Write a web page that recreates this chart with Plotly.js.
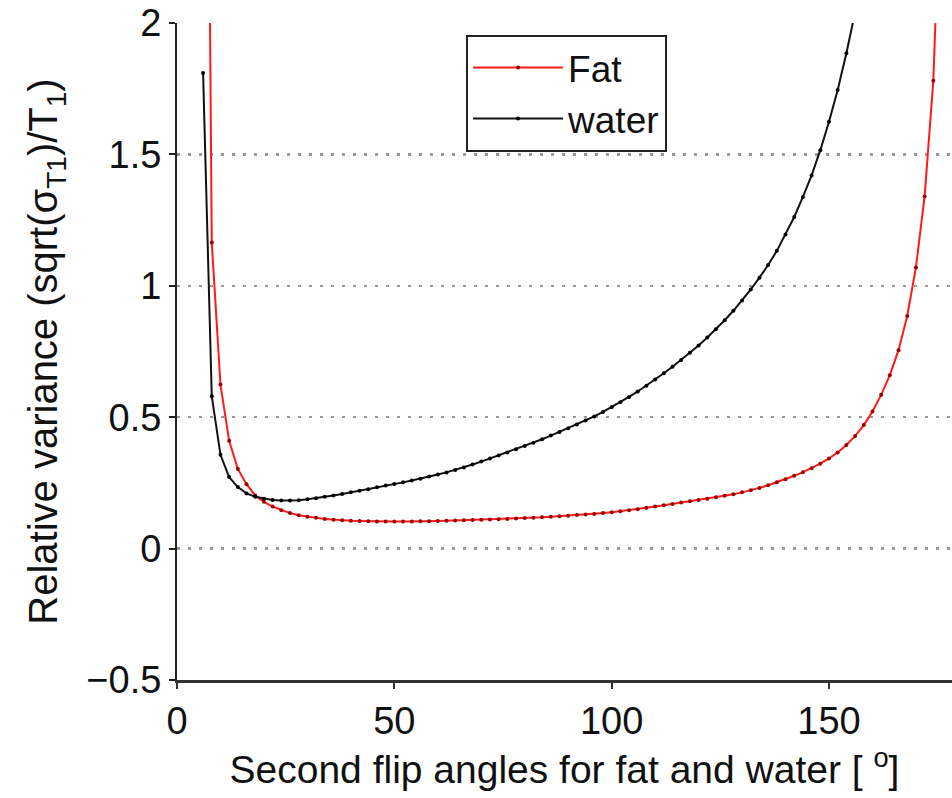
<!DOCTYPE html>
<html>
<head>
<meta charset="utf-8">
<script src="https://cdn.plot.ly/plotly-3.0.1.min.js"></script>
<style>html,body{margin:0;padding:0;background:#fff;overflow:hidden}</style>
</head>
<body>
<div id="chart" style="width:952px;height:798px"></div>
<script>
// Second flip angle (degrees)
const fatAngles = [6,8,10,12,14,16,18,20,22,24,26,28,30,32,34,36,38,40,42,44,46,48,50,52,54,56,58,60,62,64,66,68,70,72,74,76,78,80,82,84,86,88,90,92,94,96,98,100,102,104,106,108,110,112,114,116,118,120,122,124,126,128,130,132,134,136,138,140,142,144,146,148,150,152,154,156,158,160,162,164,166,168,170,172,174,176];
const fatValues = [5.3,1.165,0.624,0.41,0.303,0.245,0.202,0.178,0.16,0.146,0.135,0.127,0.121,0.117,0.113,0.11,0.108,0.106,0.105,0.104,0.103,0.103,0.103,0.103,0.103,0.104,0.104,0.105,0.106,0.107,0.108,0.109,0.11,0.111,0.112,0.113,0.115,0.116,0.117,0.119,0.121,0.123,0.125,0.128,0.13,0.132,0.135,0.138,0.142,0.146,0.15,0.155,0.16,0.165,0.17,0.175,0.18,0.185,0.19,0.195,0.201,0.207,0.214,0.222,0.231,0.241,0.252,0.264,0.277,0.291,0.306,0.323,0.343,0.366,0.394,0.428,0.47,0.522,0.585,0.66,0.755,0.885,1.07,1.34,1.78,2.7];

const waterAngles = [6,8,10,12,14,16,18,20,22,24,26,28,30,32,34,36,38,40,42,44,46,48,50,52,54,56,58,60,62,64,66,68,70,72,74,76,78,80,82,84,86,88,90,92,94,96,98,100,102,104,106,108,110,112,114,116,118,120,122,124,126,128,130,132,134,136,138,140,142,144,146,148,150,152,154,156,158];
const waterValues = [1.81,0.58,0.357,0.272,0.234,0.21,0.197,0.19,0.185,0.183,0.183,0.184,0.188,0.192,0.197,0.202,0.208,0.214,0.22,0.226,0.233,0.24,0.246,0.252,0.259,0.266,0.274,0.282,0.29,0.299,0.309,0.32,0.331,0.343,0.354,0.366,0.378,0.39,0.403,0.416,0.43,0.444,0.458,0.472,0.487,0.503,0.52,0.538,0.557,0.577,0.598,0.62,0.643,0.667,0.692,0.718,0.745,0.773,0.803,0.835,0.869,0.905,0.944,0.986,1.031,1.079,1.133,1.195,1.262,1.338,1.42,1.516,1.624,1.745,1.885,2.04,2.3];

const seriesNames = ['Fat', 'water'];
const xTicks = [0, 50, 100, 150];
const yTicks = [-0.5, 0, 0.5, 1, 1.5, 2];
const yTickText = ['\u22120.5', '0', '0.5', '1', '1.5', '2'];

const FONT = 'Liberation Sans, Arial, Helvetica, sans-serif';

const traces = [
  {
    x: fatAngles, y: fatValues, name: seriesNames[0], type: 'scatter', mode: 'lines+markers',
    line: {color: '#ff1a1a', width: 2},
    marker: {color: '#9a0000', size: 4}
  },
  {
    x: waterAngles, y: waterValues, name: seriesNames[1], type: 'scatter', mode: 'lines+markers',
    line: {color: '#111111', width: 2},
    marker: {color: '#000000', size: 4}
  }
];

const layout = {
  width: 952, height: 798,
  margin: {l: 177, r: 0, t: 23, b: 118},
  paper_bgcolor: '#ffffff', plot_bgcolor: '#ffffff',
  font: {family: FONT, size: 38, color: '#111'},
  showlegend: true,
  legend: {
    x: 0.373, y: 0.982, xanchor: 'left', yanchor: 'top',
    bgcolor: '#ffffff', bordercolor: '#222', borderwidth: 2,
    font: {family: FONT, size: 37, color: '#111'},
    tracegroupgap: 0, itemwidth: 90
  },
  xaxis: {
    range: [0, 178.3], tickvals: xTicks, ticktext: xTicks.map(String),
    showgrid: false, zeroline: false,
    showline: true, linecolor: '#333', linewidth: 2.5, mirror: false,
    ticks: 'outside', ticklen: 6, tickwidth: 2, tickcolor: '#333',
    tickfont: {family: FONT, size: 38, color: '#111'},
    title: {text: 'Second flip angles for fat and water [ <sup>o</sup>]', font: {family: FONT, size: 39, color: '#111'}, standoff: 6}
  },
  yaxis: {
    range: [-0.5, 2], tickvals: yTicks, ticktext: yTickText,
    showgrid: true, gridcolor: '#999999', gridwidth: 2.5, griddash: '2.5px,8.5px',
    zeroline: false,
    showline: true, linecolor: '#222', linewidth: 2, mirror: false,
    ticks: 'outside', ticklen: 6, tickwidth: 2, tickcolor: '#222',
    tickfont: {family: FONT, size: 38, color: '#111'},
    title: {text: 'Relative variance (sqrt(σ<sub>T1</sub>)/T<sub>1</sub>)', font: {family: FONT, size: 40, color: '#111'}, standoff: 16}
  }
};

Plotly.newPlot('chart', traces, layout, {displayModeBar: false, staticPlot: true});
</script>
</body>
</html>
